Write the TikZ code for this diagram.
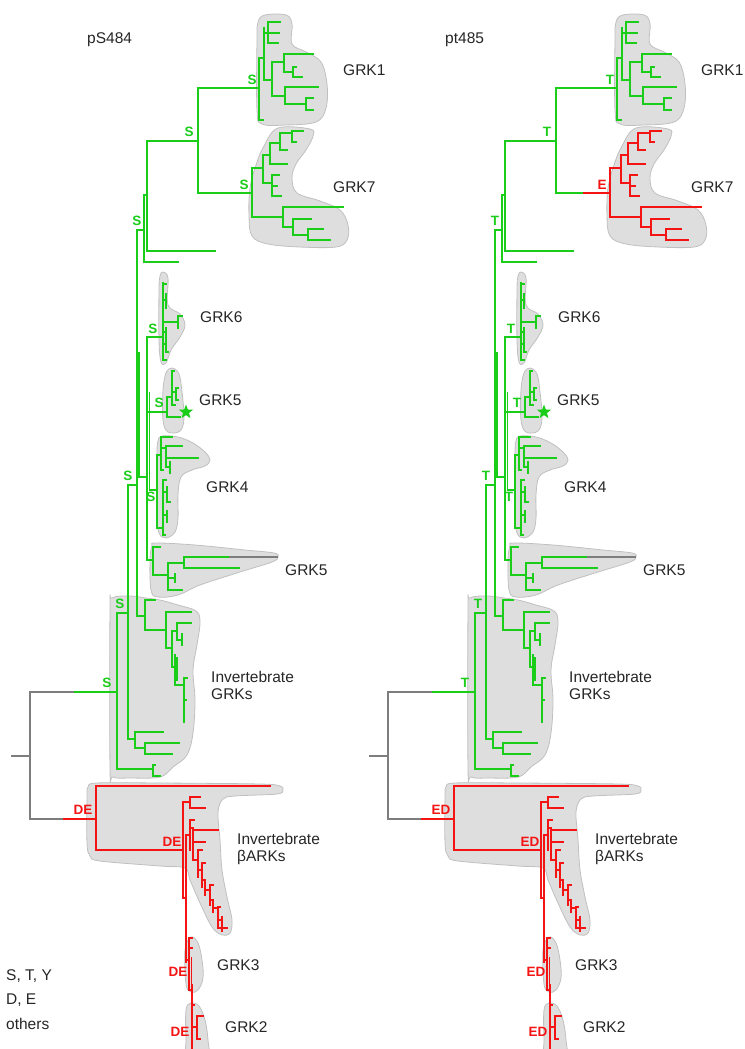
\documentclass[tikz,border=0pt]{standalone}
\usepackage{fontspec}
\setmainfont{Liberation Sans}
\usetikzlibrary{shapes.geometric}
\definecolor{tg}{RGB}{25,205,25}
\definecolor{tr}{RGB}{245,20,20}
\definecolor{tgray}{RGB}{125,125,125}
\definecolor{blobf}{RGB}{222,222,222}
\definecolor{blobd}{RGB}{192,192,192}
\tikzset{
  br/.style={line width=1.6pt, line cap=rect, line join=miter},
  g/.style={br, draw=tg},
  r/.style={br, draw=tr},
  k/.style={br, draw=tgray},
  blob/.style={fill=blobf, draw=blobd, line width=0.8pt},
  lab/.style={font=\fontsize{15.5}{17}\selectfont, anchor=west, inner sep=0pt, text=black!85},
  mut/.style={font=\bfseries\fontsize{13.5}{15}\selectfont, inner sep=0pt},
}
% #1 prefix, #2 S/T letter, #3 DE/ED letters, #4 colour of GRK7 clade, #5 GRK7 letter
\newcommand{\phylotree}[5]{%
  % ---------- blobs ----------
  \path[blob] plot[smooth cycle, tension=0.6] coordinates {(265,15) (286,15) (292,24) (292,44) (306,52) (321,62) (327,84) (326,108) (316,122) (285,125) (262,124) (257,110) (257,40) (258,22)};
  \path[blob] plot[smooth cycle, tension=0.6] coordinates {(278,128) (310,129) (313,136) (306,150) (296,164) (292,178) (297,193) (320,201) (340,210) (348,225) (347,240) (336,247) (300,247) (268,244) (252,236) (249,215) (250,188) (256,165) (264,146)};
  \path[blob] plot[smooth cycle, tension=0.6] coordinates {(163,272) (168,278) (168,305) (180,314) (185,325) (180,337) (171,350) (166,363) (161,362) (159,340) (159,290) (160,276)};
  \path[blob] plot[smooth cycle, tension=0.6] coordinates {(172,368) (179,374) (182,392) (184,418) (180,431) (168,432) (163,420) (163,390) (166,373)};
  \path[blob] plot[smooth cycle, tension=0.6] coordinates {(162,436) (178,437) (193,443) (205,452) (210,460) (205,466) (192,470) (181,477) (178,495) (178,518) (175,532) (166,538) (159,533) (157,515) (157,455) (158,441)};
  \path[blob] plot[smooth cycle, tension=0.6] coordinates {(156,543) (195,545) (245,550) (274,553) (278,557) (272,562) (240,572) (200,585) (178,595) (158,597) (151,590) (150,560) (152,546)};
  \path[blob] plot[smooth cycle, tension=0.6] coordinates {(112,598) (130,596) (146,598) (160,600) (178,605) (196,611) (200,622) (197,645) (193,670) (195,700) (193,733) (187,755) (173,767) (160,777) (130,778) (113,777) (110,767) (110,610)};
  \path[blob] plot[smooth cycle, tension=0.55] coordinates {(88,787) (97,783) (160,783) (260,784) (280,786) (283,790) (277,794) (235,796) (223,799) (218,812) (220,840) (222,870) (227,897) (232,920) (230,933) (222,935) (212,927) (200,903) (190,880) (185,868) (160,866) (100,861) (90,856) (87,843) (87,797)};
  \path[blob] plot[smooth cycle, tension=0.6] coordinates {(191,937) (198,943) (202,960) (203,978) (198,990) (191,992) (186,984) (185,950)};
  \path[blob] plot[smooth cycle, tension=0.6] coordinates {(191,1003) (199,1006) (205,1020) (208,1040) (208,1060) (187,1060) (186,1040) (186,1010)};
  % ---------- spine ----------
  \draw[g] (198,141)--(147,141)--(147,251)--(215,251);
  \draw[g] (259,88)--(198,88)--(198,193)--(226,193);
  \draw[br, draw=#4] (226,193)--(252,193);
  \draw[g] (147,195)--(144,195)--(144,262)--(178,262);
  \draw[g] (144,230)--(137,230)--(137,616)--(145,616);
  \draw[g] (139.2,353)--(139.2,477);
  \draw[g] (128,739)--(128,485)--(137,485);
  \draw[g] (137,477)--(147,477);
  \draw[g] (163,337)--(147,337)--(147,560)--(153,560);
  \draw[g] (149.5,393)--(149.5,490)--(157,490);
  % ---------- GRK1 ----------
  \draw[g] (263,120)--(259,120)--(259,58)--(264,58);
  \draw[g] (264,28)--(264,80)--(272,80);
  \draw[g] (264,33)--(268,33);
  \draw[g] (280,22)--(268,22)--(268,43)--(278,43);
  \draw[g] (268,33)--(279,33);
  \draw[g] (284,62)--(272,62)--(272,96)--(285,96);
  \draw[g] (313,54)--(284,54)--(284,72)--(293,72);
  \draw[g] (296,67)--(293,67)--(293,77)--(302,77);
  \draw[g] (318,87)--(285,87)--(285,104)--(306,104);
  \draw[g] (313,98)--(306,98)--(306,110)--(313,110);
  % ---------- GRK7 ----------
  \draw[br, draw=#4] (263,168)--(252,168)--(252,217)--(283,217);
  \draw[br, draw=#4] (270,155)--(263,155)--(263,183)--(272,183);
  \draw[br, draw=#4] (287,164)--(270,164)--(270,143)--(280,143);
  \draw[br, draw=#4] (287,150)--(280,150)--(280,133)--(292,133);
  \draw[br, draw=#4] (303,131)--(292,131)--(292,142)--(296,142);
  \draw[br, draw=#4] (279,175)--(272,175)--(272,196)--(281,196);
  \draw[br, draw=#4] (272,186)--(277,186);
  \draw[br, draw=#4] (343,207)--(283,207)--(283,227)--(293,227);
  \draw[br, draw=#4] (311,219)--(293,219)--(293,235)--(308,235);
  \draw[br, draw=#4] (323,229)--(308,229)--(308,240)--(330,240);
  % ---------- GRK6 ----------
  \draw[g] (163,283)--(163,360)--(166,360);
  \draw[g] (163,284)--(166,284);
  \draw[g] (163,300)--(166,300); \draw[g] (166,294)--(166,308);
  \draw[g] (163,322)--(178,322); \draw[g] (182,316)--(178,316)--(178,328);
  \draw[g] (163,332)--(166,332); \draw[g] (166,328)--(166,352)--(168,352);
  \draw[g] (163,344)--(165,344);
  % ---------- GRK5 (small) ----------
  \draw[g] (147,412)--(167,412);
  \draw[g] (172,397)--(167,397)--(167,417)--(180,417);
  \draw[g] (174,371)--(172,371)--(172,405)--(175,405);
  \draw[g] (172,392)--(176,392);
  \draw[g] (178,388)--(176,388)--(176,400)--(178,400);
  % ---------- GRK4 ----------
  \draw[g] (157,455)--(157,528);
  \draw[g] (157,455)--(161,455);
  \draw[g] (172,437)--(161,437)--(161,470)--(163,470);
  \draw[g] (161,448)--(166,448);
  \draw[g] (182,446)--(166,446)--(166,467)--(170,467);
  \draw[g] (166,458)--(198,458);
  \draw[g] (170,462)--(170,473);
  \draw[g] (157,528)--(163,528);
  \draw[g] (166,480)--(163,480)--(163,535)--(165,535);
  \draw[g] (163,492)--(167,492); \draw[g] (167,487)--(167,502)--(170,502);
  \draw[g] (163,515)--(167,515); \draw[g] (167,511)--(167,522);
  % ---------- GRK5 (large) ----------
  \draw[g] (160,547)--(153,547)--(153,575)--(168,575);
  \draw[g] (184,563)--(168,563)--(168,590)--(182,590);
  \draw[g] (168,578)--(175,578); \draw[g] (175,574)--(175,582);
  \draw[g] (230,557)--(184,557)--(184,568)--(239,568);
  \draw[k] (230,557)--(277,557);
  % ---------- Invertebrate GRKs ----------
  \draw[g] (155,600)--(145,600)--(145,630)--(166,630);
  \draw[g] (191,612)--(166,612)--(166,648)--(172,648);
  \draw[g] (177,631)--(172,631)--(172,667)--(175,667);
  \draw[g] (191,623)--(177,623)--(177,640)--(182,640);
  \draw[g] (182,634)--(182,645);
  \draw[g] (175,655)--(175,685)--(184,685);
  \draw[g] (176.8,658)--(176.8,680);
  \draw[g] (187,678)--(184,678)--(184,722);
  \draw[g] (184,700)--(186,700);
  \draw[g] (128,739)--(135,739);
  \draw[g] (163,732)--(135,732)--(135,748)--(145,748);
  \draw[g] (179,743)--(145,743)--(145,754)--(172,754);
  \draw[g] (117,613)--(128,613);
  \draw[g] (73,692)--(117,692);
  \draw[g] (117,613)--(117,769)--(153,769);
  \draw[g] (155,765)--(153,765)--(153,776)--(160,776);
  % ---------- root ----------
  \draw[k] (12,756)--(30,756);
  \draw[k] (73,692)--(30,692)--(30,819)--(64,819);
  \draw[r] (64,819)--(96,819);
  % ---------- Invertebrate betaARKs ----------
  \draw[r] (270,786)--(96,786)--(96,850)--(183,850);
  \draw[r] (183,802)--(183,898)--(186,898);
  \draw[r] (183,802)--(190,802);
  \draw[r] (200,797)--(190,797)--(190,808)--(205,808);
  \draw[r] (186,837)--(186,962);
  \draw[r] (186,835)--(190,835);
  \draw[r] (194,820)--(190,820)--(190,850);
  \draw[r] (190,828)--(193,828)--(193,860)--(198,860);
  \draw[r] (193,830)--(218,830);
  \draw[r] (193,842)--(205,842);
  \draw[r] (202,850)--(198,850)--(198,877);
  \draw[r] (198,870)--(202,870);
  \draw[r] (205,863)--(202,863)--(202,887);
  \draw[r] (202,880)--(205,880)--(205,895);
  \draw[r] (205,890)--(210,890);
  \draw[r] (213,885)--(210,885)--(210,905);
  \draw[r] (210,900)--(213,900)--(213,912);
  \draw[r] (213,908)--(218,908);
  \draw[r] (220,907)--(218,907)--(218,928)--(227,928);
  \draw[r] (218,920)--(222,920); \draw[r] (222,917)--(222,931);
  % ---------- GRK3 / GRK2 ----------
  \draw[r] (192,938)--(189,938)--(189,990)--(192,990);
  \draw[r] (189,948)--(192,948);
  \draw[r] (191.5,958)--(191.5,988);
  \draw[r] (186,960)--(189,960);
  \draw[r] (192,985)--(192,1052);
  \draw[r] (192,1005)--(194,1005);
  \draw[r] (192,1027)--(197,1027);
  \draw[r] (203,1016)--(197,1016)--(197,1039)--(200,1039);
  % ---------- star ----------
  \node[star, star points=5, star point ratio=2.4, fill=tg, minimum size=15pt, inner sep=0pt] (#1star) at (186,412) {};
  % ---------- mutation labels ----------
  \node[mut, text=tg] (#1m1) at (189,132) {#2};
  \node[mut, text=tg] (#1m2) at (252,80) {#2};
  \node[mut, text=#4] (#1m3) at (244,185) {#5};
  \node[mut, text=tg] (#1m4) at (137,221) {#2};
  \node[mut, text=tg] (#1m5) at (153,329) {#2};
  \node[mut, text=tg] (#1m6) at (159,403) {#2};
  \node[mut, text=tg] (#1m7) at (128,476) {#2};
  \node[mut, text=tg] (#1m8) at (151,497) {#2};
  \node[mut, text=tg] (#1m9) at (120,604) {#2};
  \node[mut, text=tg] (#1m10) at (107,683) {#2};
  \node[mut, text=tr] (#1d1) at (83,810) {#3};
  \node[mut, text=tr] (#1d2) at (172,842) {#3};
  \node[mut, text=tr] (#1d3) at (178,972) {#3};
  \node[mut, text=tr] (#1d4) at (180,1032) {#3};
  % ---------- clade labels ----------
  \node[lab] (#1grk1) at (343,70) {GRK1};
  \node[lab] (#1grk7) at (333,187) {GRK7};
  \node[lab] (#1grk6) at (200,317) {GRK6};
  \node[lab] (#1grk5a) at (199,400) {GRK5};
  \node[lab] (#1grk4) at (206,487) {GRK4};
  \node[lab] (#1grk5b) at (285,570) {GRK5};
  \node[lab, align=left] (#1igrk) at (211,685) {Invertebrate\\GRKs};
  \node[lab, align=left] (#1bark) at (237,849) {Invertebrate\\βARKs};
  \node[lab] (#1grk3) at (217,965) {GRK3};
  \node[lab] (#1grk2) at (225,1027) {GRK2};
}
\begin{document}
\begin{tikzpicture}[x=1pt, y=-1pt]
  \useasboundingbox (0,0) rectangle (744,1049);
  \clip (0,0) rectangle (744,1049);
  \phylotree{L}{S}{DE}{tg}{S}
  \begin{scope}[xshift=358pt]
    \phylotree{R}{T}{ED}{tr}{E}
  \end{scope}
  \node[lab] (title1) at (87,40) {pS484};
  \node[lab] (title2) at (445,40) {pt485};
  \node[lab] (leg1) at (6,976) {S, T, Y};
  \node[lab] (leg2) at (6,1000) {D, E};
  \node[lab] (leg3) at (6,1024) {others};
\end{tikzpicture}
\end{document}
